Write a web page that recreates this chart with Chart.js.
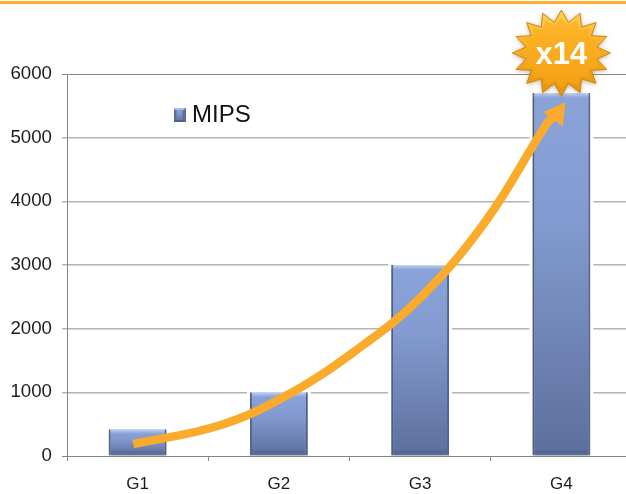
<!DOCTYPE html>
<html>
<head>
<meta charset="utf-8">
<script src="https://cdn.jsdelivr.net/npm/chart.js@4"></script>
<style>
html,body{margin:0;padding:0;background:#fff;overflow:hidden;width:626px;height:494px}
canvas{display:block}
</style>
</head>
<body>
<canvas id="c" width="646" height="494"></canvas>
<script>
const categories = ["G1", "G2", "G3", "G4"];
const mips = [420, 1000, 3000, 5700];
const seriesName = "MIPS";
const yTicks = [0, 1000, 2000, 3000, 4000, 5000, 6000];
// growth arrow, in chart units: category position and MIPS value
const arrowPos = [-0.03, 0.59, 1.06, 1.53, 2.0, 2.47, 2.9, 2.97];
const arrowValues = [188, 487, 958, 1634, 2482, 3707, 5230, 5378];
const badgeText = "x14";
const badgePos = 3;
const badgeValue = 6330;

const FONT = '"Liberation Sans", Arial, sans-serif';

function barGradient(c, top, bottom) {
  const g = c.createLinearGradient(0, top, 0, bottom);
  g.addColorStop(0, "#8aa3d9");
  g.addColorStop(0.35, "#839bd0");
  g.addColorStop(1, "#5c6f9c");
  return g;
}

// legend swatch
const swatch = document.createElement("canvas");
swatch.width = 12; swatch.height = 14;
(function () {
  const s = swatch.getContext("2d");
  s.fillStyle = barGradient(s, 0, 14);
  s.fillRect(0, 0, 12, 14);
  s.fillStyle = "#5b6d97";
  s.beginPath(); s.moveTo(0, 0); s.lineTo(3, 3); s.lineTo(3, 11); s.lineTo(0, 14); s.fill();
  s.beginPath(); s.moveTo(12, 0); s.lineTo(9, 3); s.lineTo(9, 11); s.lineTo(12, 14); s.fill();
  s.fillStyle = "#a9bde6"; s.fillRect(1, 0, 10, 2);
  s.fillStyle = "#4f6089"; s.fillRect(1, 12, 10, 2);
})();

function starPath(c, cx, cy, pts, rx, ry, ix, iy) {
  c.beginPath();
  for (let i = 0; i < pts * 2; i++) {
    const a = -Math.PI / 2 + i * Math.PI / pts;
    const mx = i % 2 ? ix : rx, my = i % 2 ? iy : ry;
    const px = cx + mx * Math.cos(a), py = cy + my * Math.sin(a);
    i ? c.lineTo(px, py) : c.moveTo(px, py);
  }
  c.closePath();
}

const decorations = {
  id: "decorations",
  afterLayout(chart) {
    const l = chart.legend;
    const w = l.width;
    l.left = 169; l.right = 169 + w + 30;
    l.top = 93; l.bottom = 93 + l.height + 30;
    l.width = w + 30; l.height = l.height + 30;
  },
  beforeDatasetDraw(chart, args) {
    if (args.index !== 0) return;
    const c = chart.ctx;
    c.save();
    c.fillStyle = "#fff";
    args.meta.data.forEach(b => {
      c.fillRect(b.x - b.width / 2 - 3, b.y - 1, b.width + 6, b.base - b.y - 1);
    });
    c.restore();
    c.save();
    c.shadowColor = "rgba(0,0,0,0.38)";
    c.shadowBlur = 4;
    c.shadowOffsetY = 2;
  },
  afterDatasetDraw(chart, args) {
    if (args.index !== 0) return;
    const c = chart.ctx;
    c.restore();
    c.save();
    args.meta.data.forEach(b => {
      const left = b.x - b.width / 2;
      const g = c.createLinearGradient(0, b.y, 0, b.y + 5);
      g.addColorStop(0, "#c9d9f4");
      g.addColorStop(1, "rgba(170,192,235,0)");
      c.fillStyle = g;
      c.fillRect(left + 2, b.y, b.width - 4, 5);
      c.fillStyle = "rgba(60,75,115,0.25)";
      c.fillRect(left + 2, b.base - 5, b.width - 4, 3);
    });
    c.restore();
  },
  afterDraw(chart) {
    const c = chart.ctx;
    c.save();
    // top rule
    c.fillStyle = "#fbb034";
    c.fillRect(0, 1, chart.width, 3);
    // badge
    const cx = chart.scales.xArrow.getPixelForValue(badgePos);
    const cy = chart.scales.y.getPixelForValue(badgeValue);
    starPath(c, cx, cy, 16, 49, 43, 36, 31);
    const g = c.createLinearGradient(0, cy - 43, 0, cy + 43);
    g.addColorStop(0, "#ffd257");
    g.addColorStop(0.45, "#fbae1f");
    g.addColorStop(1, "#e6920c");
    c.shadowColor = "rgba(120,90,30,0.55)";
    c.shadowBlur = 5;
    c.shadowOffsetY = 1;
    c.fillStyle = g;
    c.fill();
    c.shadowColor = "transparent";
    c.lineWidth = 1;
    c.strokeStyle = "#c9880f";
    c.stroke();
    starPath(c, cx, cy, 16, 40, 35, 33, 28);
    const g2 = c.createLinearGradient(0, cy - 35, 0, cy + 35);
    g2.addColorStop(0, "#fdb62a");
    g2.addColorStop(1, "#f4a113");
    c.fillStyle = g2;
    c.fill();
    c.fillStyle = "#ffffff";
    c.font = "bold 31px " + FONT;
    c.textAlign = "center";
    c.textBaseline = "middle";
    c.fillText(badgeText, cx, cy + 2);
    c.restore();
  }
};

new Chart(document.getElementById("c"), {
  data: {
    labels: categories,
    datasets: [
      {
        type: "bar",
        label: seriesName,
        data: mips,
        order: 2,
        xAxisID: "x",
        yAxisID: "y",
        grouped: false,
        barPercentage: 0.41,
        categoryPercentage: 1,
        backgroundColor(ctx) {
          const ch = ctx.chart;
          if (ctx.dataIndex === undefined || !ch.scales.y) return "#7f97cc";
          return barGradient(ch.ctx, ch.scales.y.getPixelForValue(mips[ctx.dataIndex]), ch.scales.y.getPixelForValue(0));
        },
        borderColor: "#5e7099",
        borderWidth: { left: 2, right: 2, top: 0, bottom: 2 }
      },
      {
        type: "line",
        label: "growth",
        data: arrowPos.map((x, i) => ({ x, y: arrowValues[i] })),
        order: 1,
        xAxisID: "xArrow",
        yAxisID: "y",
        borderColor: "#fbab2c",
        backgroundColor: "#fbab2c",
        borderWidth: 8.5,
        tension: 0.4,
        fill: false,
        pointStyle: "triangle",
        pointRadius: arrowPos.map((_, i) => i === arrowPos.length - 1 ? 14 : 0),
        pointRotation: 36,
        pointBorderWidth: 0,
        pointBackgroundColor: "#fbab2c"
      }
    ]
  },
  options: {
    responsive: false,
    animation: false,
    devicePixelRatio: 1,
    layout: { padding: { top: 74, right: 0, left: 0, bottom: 0 } },
    plugins: {
      tooltip: { enabled: false },
      legend: {
        position: "chartArea",
        align: "start",
        labels: {
          usePointStyle: true,
          boxWidth: 1,
          padding: 10,
          color: "#111",
          font: { family: FONT, size: 24 },
          generateLabels: () => [{ text: seriesName, pointStyle: swatch, fontColor: "#111", lineWidth: 0, datasetIndex: 0, hidden: false }]
        }
      }
    },
    scales: {
      x: {
        type: "category",
        offset: true,
        afterFit(s) { s.height = 38; },
        border: { color: "#868686", width: 1 },
        grid: { drawOnChartArea: false, color: "#868686", tickLength: 5, offset: true },
        ticks: { color: "#1c1c1c", font: { family: FONT, size: 17 }, padding: 13, maxRotation: 0 }
      },
      xArrow: { type: "linear", min: -0.5, max: 3.5, display: false },
      y: {
        min: 0,
        max: 6000,
        afterFit(s) { s.width = 67; },
        afterBuildTicks(s) { s.ticks = yTicks.map(value => ({ value })); },
        border: { color: "#868686", width: 1 },
        grid: {
          tickLength: 5,
          color: c => (c.tick && (c.tick.value === 6000 || c.tick.value === 0)) ? "#868686" : "#b4b4b4",
          lineWidth: c => (c.tick && (c.tick.value === 6000 || c.tick.value === 0)) ? 1 : 1.5
        },
        ticks: { color: "#1c1c1c", font: { family: FONT, size: 18.7 }, padding: 10, callback: v => String(v) }
      }
    }
  },
  plugins: [decorations]
});
</script>
</body>
</html>
